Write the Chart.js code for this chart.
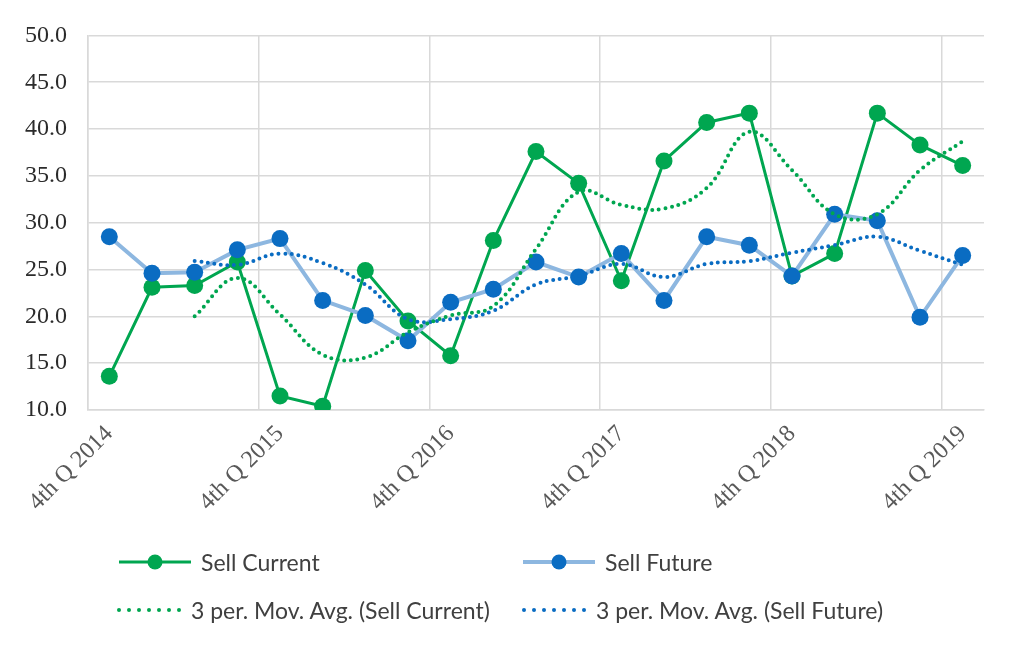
<!DOCTYPE html>
<html>
<head>
<meta charset="utf-8">
<script src="https://cdn.jsdelivr.net/npm/chart.js@4/dist/chart.umd.min.js"></script>
<style>
  html, body { margin: 0; padding: 0; background: #fff; }
  #wrap { position: relative; width: 1015px; height: 647px; }
  #legend { position: absolute; left: 0; top: 0; width: 1015px; height: 647px; pointer-events: none;
            font-family: Lato, "Noto Sans", sans-serif; font-size: 23px; color: #404040; }
  .item { position: absolute; display: flex; align-items: center; height: 30px; white-space: nowrap; }
  .item svg { margin-right: 10px; }
</style>
</head>
<body>
<div id="wrap">
  <canvas id="c" width="1015" height="647"></canvas>
  <div id="legend"></div>
</div>
<script>
const categories = [
  '4th Q 2014','1st Q 2015','2nd Q 2015','3rd Q 2015',
  '4th Q 2015','1st Q 2016','2nd Q 2016','3rd Q 2016',
  '4th Q 2016','1st Q 2017','2nd Q 2017','3rd Q 2017',
  '4th Q 2017','1st Q 2018','2nd Q 2018','3rd Q 2018',
  '4th Q 2018','1st Q 2019','2nd Q 2019','3rd Q 2019',
  '4th Q 2019'
];
const sellCurrent = [13.6,23.1,23.3,25.8,11.5,10.4,24.9,19.5,15.8,28.1,37.6,34.2,23.8,36.6,40.7,41.7,24.3,26.7,41.7,38.3,36.1];
const sellFuture  = [28.5,24.6,24.7,27.1,28.3,21.7,20.1,17.4,21.5,22.9,25.8,24.2,26.7,21.7,28.5,27.6,24.3,30.9,30.2,19.9,26.5];
const maCurrent = [null,null,20.0,24.1,20.2,15.9,15.6,18.3,20.1,21.1,27.2,33.3,31.9,31.5,33.7,39.7,35.6,30.9,30.9,35.6,38.7];
const maFuture  = [null,null,25.9,25.5,26.7,25.7,23.4,19.7,19.7,20.6,23.4,24.3,25.6,24.2,25.6,25.9,26.8,27.6,28.5,27.0,25.5];
const yTicks = [10,15,20,25,30,35,40,45,50];
const seriesNames = ['Sell Current','Sell Future','3 per. Mov. Avg. (Sell Current)','3 per. Mov. Avg. (Sell Future)'];

const GREEN = '#00A650', BLUE = '#0A6CC2', LBLUE = '#8DB7E0', GRID = '#D9D9D9';
const SERIF = "'Liberation Serif', 'Times New Roman', Times, serif";

const chart = new Chart(document.getElementById('c'), {
  type: 'line',
  data: {
    labels: categories,
    datasets: [
      { label: seriesNames[2], data: maCurrent, borderColor: GREEN, borderWidth: 4, borderDash: [0, 6.6],
        borderCapStyle: 'round', pointRadius: 0, tension: 0.4, order: 0, fill: false },
      { label: seriesNames[3], data: maFuture, borderColor: BLUE, borderWidth: 4, borderDash: [0, 6.6],
        borderCapStyle: 'round', pointRadius: 0, tension: 0.4, order: 1, fill: false },
      { label: seriesNames[1], data: sellFuture, borderColor: LBLUE, borderWidth: 4,
        pointRadius: 8.5, pointBackgroundColor: BLUE, pointBorderColor: BLUE, pointBorderWidth: 0,
        tension: 0, order: 2, fill: false },
      { label: seriesNames[0], data: sellCurrent, borderColor: GREEN, borderWidth: 3,
        pointRadius: 8.5, pointBackgroundColor: GREEN, pointBorderColor: GREEN, pointBorderWidth: 0,
        tension: 0, order: 3, fill: false }
    ]
  },
  options: {
    responsive: false,
    animation: false,
    layout: { padding: { top: 31, right: 31, left: 0, bottom: 0 } },
    plugins: { legend: { display: false }, tooltip: { enabled: false } },
    scales: {
      x: {
        offset: true,
        grid: {
          offset: true,
          drawTicks: false,
          color: (ctx) => (ctx.index % 4 === 0 ? GRID : 'rgba(0,0,0,0)'),
          lineWidth: 1.5
        },
        border: { display: true, color: GRID, width: 1.5 },
        ticks: {
          autoSkip: false, maxRotation: 45, minRotation: 45, padding: 10,
          color: '#595959',
          font: { family: SERIF, size: 24 },
          callback: function (v, i) { return i % 4 === 0 ? categories[i] : ''; }
        },
        afterFit: (s) => { s.height = 647 - 410; }
      },
      y: {
        min: 10, max: 50,
        afterBuildTicks: (s) => { s.ticks = yTicks.map(v => ({ value: v })); },
        grid: { color: GRID, lineWidth: 1.5, drawTicks: false },
        border: { display: true, color: GRID, width: 1.5 },
        ticks: {
          padding: 21, color: '#2b2b2b',
          font: { family: SERIF, size: 24 },
          callback: (v) => Number(v).toFixed(1)
        },
        afterFit: (s) => { s.width = 88; }
      }
    }
  }
});

// HTML legend (Excel-style two-column grid)
const legend = document.getElementById('legend');
const legendItems = [
  { name: seriesNames[0], color: GREEN, line: GREEN, type: 'marker', x: 119, y: 547 },
  { name: seriesNames[1], color: BLUE, line: LBLUE, type: 'marker', x: 523, y: 547 },
  { name: seriesNames[2], color: GREEN, type: 'dots', x: 117, y: 595 },
  { name: seriesNames[3], color: BLUE, type: 'dots', x: 522, y: 595 }
];
legendItems.forEach(it => {
  const d = document.createElement('div');
  d.className = 'item';
  d.style.left = it.x + 'px';
  d.style.top = it.y + 'px';
  let svg;
  if (it.type === 'marker') {
    svg = '<svg width="72" height="20"><line x1="0" y1="10" x2="72" y2="10" stroke="' + it.line +
      '" stroke-width="' + (it.line === LBLUE ? 4 : 3) + '"/><circle cx="36" cy="10" r="7.5" fill="' + it.color + '"/></svg>';
  } else {
    let dots = '';
    for (let k = 0; k < 7; k++) dots += '<circle cx="' + (2 + k * 10) + '" cy="10" r="2" fill="' + it.color + '"/>';
    svg = '<svg width="64" height="20">' + dots + '</svg>';
  }
  d.innerHTML = svg + '<span>' + it.name + '</span>';
  legend.appendChild(d);
});
</script>
</body>
</html>
